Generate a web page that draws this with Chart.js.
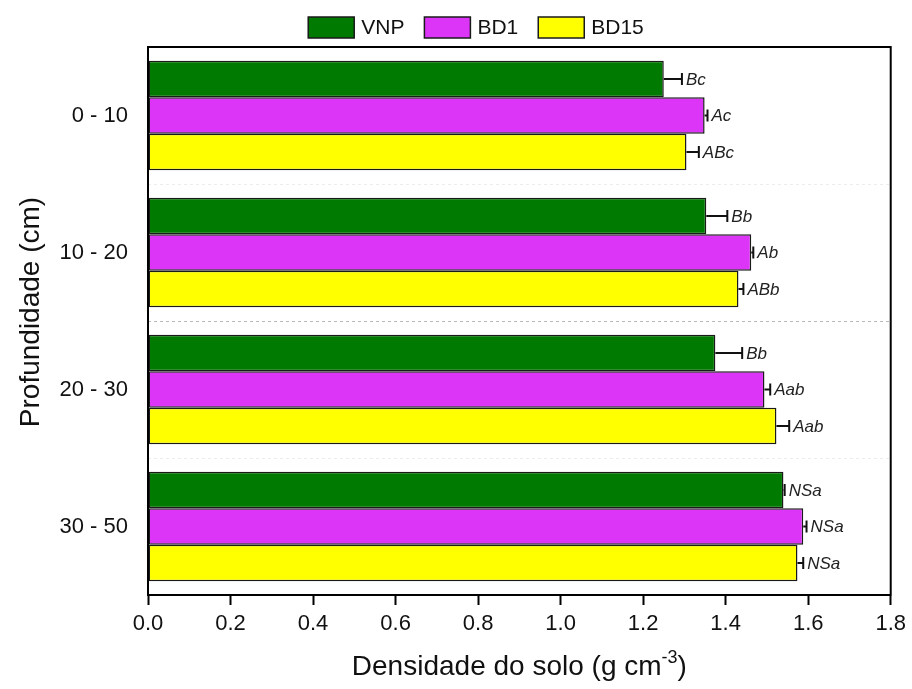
<!DOCTYPE html>
<html>
<head>
<meta charset="utf-8">
<script src="https://cdn.jsdelivr.net/npm/chart.js@4.4.1/dist/chart.umd.min.js"></script>
<style>
  html, body { margin: 0; padding: 0; background: #fff; }
  #wrap { width: 912px; height: 689px; }
</style>
</head>
<body>
<div id="wrap"><canvas id="c" width="912" height="689"></canvas></div>
<script>
// Soil depth layers (cm)
const depths = ['0 - 10', '10 - 20', '20 - 30', '30 - 50'];
const seriesNames = ['VNP', 'BD1', 'BD15'];

// Soil bulk density (g cm-3)
const vnp  = [1.250, 1.353, 1.375, 1.540];
const bd1  = [1.349, 1.462, 1.494, 1.588];
const bd15 = [1.305, 1.431, 1.523, 1.574];

// Standard errors
const vnpErr  = [0.044, 0.051, 0.065, 0.003];
const bd1Err  = [0.007, 0.005, 0.014, 0.008];
const bd15Err = [0.030, 0.012, 0.031, 0.014];

// Mean-comparison letters
const vnpLetters  = ['Bc', 'Bb', 'Bb', 'NSa'];
const bd1Letters  = ['Ac', 'Ab', 'Aab', 'NSa'];
const bd15Letters = ['ABc', 'ABb', 'Aab', 'NSa'];

const xTicks = [0, 0.2, 0.4, 0.6, 0.8, 1.0, 1.2, 1.4, 1.6, 1.8];

const FONT = '"Liberation Sans", Arial, sans-serif';
const colors = ['#007a00', '#dc35f7', '#ffff00'];
const errs = [vnpErr, bd1Err, bd15Err];
const letters = [vnpLetters, bd1Letters, bd15Letters];

const datasets = [vnp, bd1, bd15].map((d, i) => ({
  label: seriesNames[i],
  data: d,
  backgroundColor: colors[i],
  borderColor: '#1a1a1a',
  borderWidth: 1.5,
  borderSkipped: false,
  categoryPercentage: 0.8,
  barPercentage: 1.0
}));

// Dotted separators between depth groups
const separators = {
  id: 'separators',
  beforeDatasetsDraw(chart) {
    const { ctx, chartArea, scales: { y } } = chart;
    ctx.save();
    ctx.setLineDash([3, 3]);
    ctx.lineWidth = 1;
    for (let i = 1; i < depths.length; i++) {
      const py = Math.round((y.getPixelForValue(i - 1) + y.getPixelForValue(i)) / 2) + 0.5;
      ctx.strokeStyle = i === 2 ? '#b8b8b8' : '#ececec';
      ctx.beginPath();
      ctx.moveTo(chartArea.left, py);
      ctx.lineTo(chartArea.right, py);
      ctx.stroke();
    }
    ctx.restore();
  }
};

// Error bars, letters and plot frame
const annotations = {
  id: 'annotations',
  afterDatasetsDraw(chart) {
    const { ctx, chartArea, scales: { x } } = chart;
    ctx.save();
    chart.data.datasets.forEach((ds, i) => {
      const meta = chart.getDatasetMeta(i);
      meta.data.forEach((bar, j) => {
        const v = ds.data[j];
        const x0 = x.getPixelForValue(v);
        const x1 = x.getPixelForValue(v + errs[i][j]);
        const yy = bar.y;
        ctx.strokeStyle = '#111';
        ctx.lineWidth = 2;
        ctx.beginPath();
        ctx.moveTo(x0, yy);
        ctx.lineTo(x1, yy);
        ctx.moveTo(x1, yy - 6);
        ctx.lineTo(x1, yy + 6);
        ctx.stroke();
        ctx.fillStyle = '#222';
        ctx.font = 'italic 17px ' + FONT;
        ctx.textAlign = 'left';
        ctx.textBaseline = 'middle';
        ctx.fillText(letters[i][j], x1 + 4, yy + 1);
      });
    });
    ctx.strokeStyle = '#000';
    ctx.lineWidth = 2;
    ctx.strokeRect(chartArea.left, chartArea.top, chartArea.right - chartArea.left, chartArea.bottom - chartArea.top);
    ctx.restore();
  }
};

// Axis titles and legend
const decorations = {
  id: 'decorations',
  afterDraw(chart) {
    const { ctx, chartArea } = chart;
    ctx.save();
    ctx.fillStyle = '#111';
    ctx.textBaseline = 'alphabetic';

    // x title with superscript
    const main = 'Densidade do solo (g cm';
    const sup = '-3';
    const tail = ')';
    ctx.font = '28px ' + FONT;
    const wMain = ctx.measureText(main).width;
    const wTail = ctx.measureText(tail).width;
    ctx.font = '18px ' + FONT;
    const wSup = ctx.measureText(sup).width;
    const total = wMain + wSup + wTail;
    let tx = (chartArea.left + chartArea.right) / 2 - total / 2;
    const ty = 675;
    ctx.textAlign = 'left';
    ctx.font = '28px ' + FONT;
    ctx.fillText(main, tx, ty);
    ctx.font = '18px ' + FONT;
    ctx.fillText(sup, tx + wMain, ty - 12);
    ctx.font = '28px ' + FONT;
    ctx.fillText(tail, tx + wMain + wSup, ty);

    // y title
    ctx.save();
    ctx.translate(39, 312);
    ctx.rotate(-Math.PI / 2);
    ctx.textAlign = 'center';
    ctx.font = '28px ' + FONT;
    ctx.fillText('Profundidade (cm)', 0, 0);
    ctx.restore();

    // legend
    ctx.font = '21px ' + FONT;
    const boxW = 46, boxH = 21, gap = 7, spacing = 20;
    const widths = seriesNames.map(n => boxW + gap + ctx.measureText(n).width);
    const legendW = widths.reduce((a, b) => a + b, 0) + spacing * (seriesNames.length - 1);
    let lx = 476 - legendW / 2;
    const ly = 17;
    seriesNames.forEach((n, i) => {
      ctx.fillStyle = colors[i];
      ctx.fillRect(lx, ly, boxW, boxH);
      ctx.strokeStyle = '#1a1a1a';
      ctx.lineWidth = 1.5;
      ctx.strokeRect(lx, ly, boxW, boxH);
      ctx.fillStyle = '#111';
      ctx.textAlign = 'left';
      ctx.textBaseline = 'middle';
      ctx.fillText(n, lx + boxW + gap, ly + boxH / 2 + 1);
      lx += widths[i] + spacing;
    });
    ctx.restore();
  }
};

new Chart(document.getElementById('c'), {
  type: 'bar',
  data: { labels: depths, datasets },
  options: {
    indexAxis: 'y',
    responsive: false,
    devicePixelRatio: 1,
    animation: false,
    layout: { padding: { top: 47, right: 18, left: 0, bottom: 0 } },
    plugins: { legend: { display: false }, tooltip: { enabled: false } },
    scales: {
      x: {
        type: 'linear',
        min: 0,
        max: 1.8,
        afterBuildTicks: s => { s.ticks = xTicks.map(v => ({ value: v })); },
        afterFit: s => { s.height = 94; },
        ticks: {
          callback: v => Number(v).toFixed(1),
          color: '#111',
          font: { family: FONT, size: 22 },
          padding: 6,
          maxRotation: 0
        },
        grid: {
          display: true,
          drawOnChartArea: false,
          drawTicks: true,
          tickLength: 10,
          tickColor: '#000',
          tickWidth: 2
        },
        border: { display: true, color: '#000', width: 2 }
      },
      y: {
        type: 'category',
        afterFit: s => { s.width = 148; },
        ticks: {
          color: '#111',
          font: { family: FONT, size: 22 },
          padding: 20
        },
        grid: { display: false, drawTicks: false },
        border: { display: false }
      }
    }
  },
  plugins: [separators, annotations, decorations]
});
</script>
</body>
</html>
